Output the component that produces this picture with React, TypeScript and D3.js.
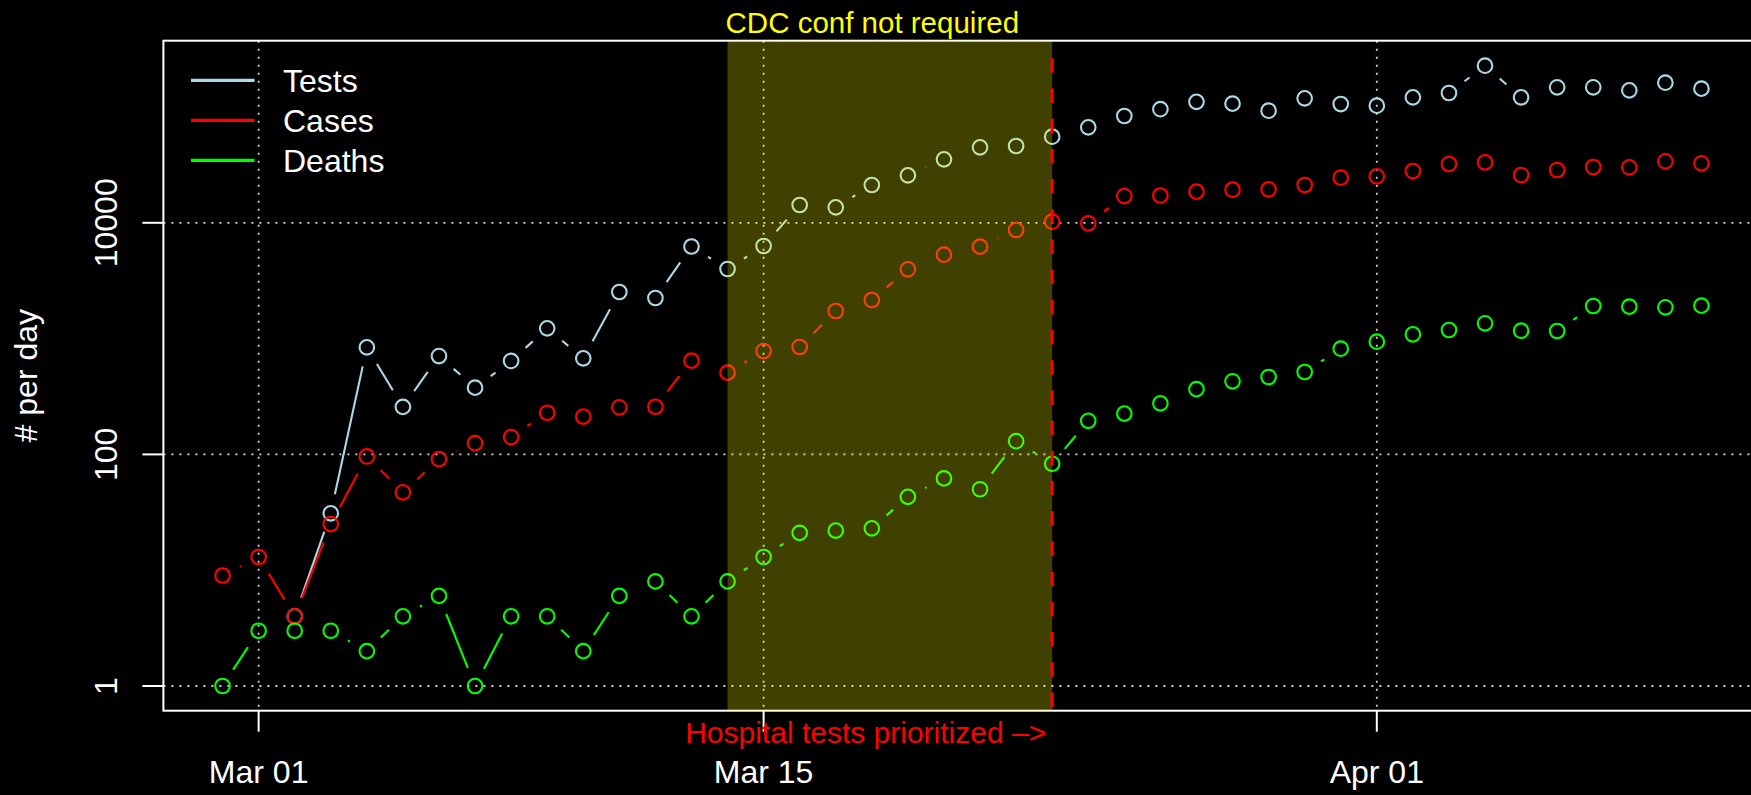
import React from "react";
import * as d3 from "d3";

// ---- data ----
const dates: Date[] = d3.utcDay.range(new Date(Date.UTC(2020, 1, 29)), new Date(Date.UTC(2020, 3, 11)));

const tests: (number | null)[] = [
  null, null, 4, 31, 841, 257, 707, 377, 641, 1227, 676, 2526, 2242, 6243, 3990, 6305,
  14250, 13610, 21200, 25720, 35350, 44870, 46050, 55400, 66780, 83610, 95700, 110900,
  106800, 92900, 118900, 106100, 102600, 121300, 132100, 227300, 121300, 148000, 148000,
  139400, 162100, 143900,
];
const cases: (number | null)[] = [
  9, 13, 4, 25, 96, 47, 91, 125, 141, 229, 212, 255, 258, 645, 508, 781, 846, 1731, 2154,
  3966, 5303, 6218, 8666, 10220, 9900, 17030, 17210, 18560, 19310, 19470, 21200, 24520,
  25210, 28020, 32190, 33300, 25870, 28580, 30330, 30150, 33970, 32640,
];
const deaths: (number | null)[] = [
  1, 3, 3, 3, 2, 4, 6, 1, 4, 4, 2, 6, 8, 4, 8, 13, 21, 22, 23, 43, 62, 50, 130, 83, 195,
  225, 276, 366, 428, 466, 515, 818, 940, 1089, 1187, 1356, 1170, 1163, 1912, 1886, 1864, 1924,
];

const seriesNames = ["Tests", "Cases", "Deaths"];
const seriesColors = ["#ADD8E6", "#FF0000", "#00FF00"];
const seriesValues = [tests, cases, deaths];

const xTickDates = ["2020-03-01", "2020-03-15", "2020-04-01"];
const yTickValues = [1, 100, 10000];

const shadeStart = "2020-03-14";
const shadeEnd = "2020-03-23";
const shadeLabel = "CDC conf not required";
const lineLabel = "Hospital tests prioritized \u2013>";
const yTitle = "# per day";

// ---- layout ----
const W = 1751;
const H = 795;
const left = 163.4;
const right = 1760.6;
const top = 40.7;
const bottom = 710.7;
const FONT = "'Liberation Sans', Arial, Helvetica, sans-serif";

const day = 86400000;
const mar1 = Date.UTC(2020, 2, 1);

const x = d3
  .scaleUtc()
  .domain([new Date(mar1 - 2.64 * day), new Date(mar1 + 41.64 * day)])
  .range([left, right]);
const y = d3
  .scaleLog()
  .domain([Math.pow(10, -0.2133), Math.pow(10, 5.5726)])
  .range([bottom, top]);

const fmt = d3.utcFormat("%b %d");
const parse = (s: string) => new Date(s + "T00:00:00Z");

const GAP = 19.5;
const R = 7.3;

function segments(vals: (number | null)[]) {
  const out: { x1: number; y1: number; x2: number; y2: number }[] = [];
  for (let i = 0; i < vals.length - 1; i++) {
    const a = vals[i];
    const b = vals[i + 1];
    if (a == null || b == null) continue;
    const ax = x(dates[i]);
    const ay = y(a);
    const bx = x(dates[i + 1]);
    const by = y(b);
    const dx = bx - ax;
    const dy = by - ay;
    const d = Math.sqrt(dx * dx + dy * dy);
    if (d <= 2 * GAP) continue;
    const ux = dx / d;
    const uy = dy / d;
    out.push({ x1: ax + ux * GAP, y1: ay + uy * GAP, x2: bx - ux * GAP, y2: by - uy * GAP });
  }
  return out;
}

export default function App() {
  const sx0 = x(parse(shadeStart));
  const sx1 = x(parse(shadeEnd));
  return (
    <svg
      width={W}
      height={H}
      style={{ position: "absolute", left: 0, top: 0, display: "block" }}
      fontFamily={FONT}
    >
      <rect x={0} y={0} width={W} height={H} fill="#000" />
      {/* grid */}
      {xTickDates.map((t) => (
        <line
          key={"gx" + t}
          x1={x(parse(t))}
          x2={x(parse(t))}
          y1={top}
          y2={bottom}
          stroke="#d3d3d3"
          strokeWidth={1.8}
          strokeDasharray="2 6"
        />
      ))}
      {yTickValues.map((v) => (
        <line
          key={"gy" + v}
          x1={left}
          x2={right}
          y1={y(v)}
          y2={y(v)}
          stroke="#d3d3d3"
          strokeWidth={1.8}
          strokeDasharray="2 6"
        />
      ))}
      {/* series */}
      {seriesValues.map((vals, si) => (
        <g key={seriesNames[si]} stroke={seriesColors[si]} fill="none" strokeWidth={2.1}>
          {segments(vals).map((s, k) => (
            <line key={k} x1={s.x1} y1={s.y1} x2={s.x2} y2={s.y2} />
          ))}
          {vals.map((v, i) =>
            v == null ? null : <circle key={"c" + i} cx={x(dates[i])} cy={y(v)} r={R} />
          )}
        </g>
      ))}
      {/* box */}
      <rect x={left} y={top} width={right - left} height={bottom - top} fill="none" stroke="#fff" strokeWidth={2} />
      {/* axes */}
      {xTickDates.map((t) => (
        <g key={"tx" + t}>
          <line x1={x(parse(t))} x2={x(parse(t))} y1={bottom} y2={bottom + 21} stroke="#fff" strokeWidth={2} />
          <text x={x(parse(t))} y={782.7} textAnchor="middle" fill="#fff" fontSize={32}>
            {fmt(parse(t))}
          </text>
        </g>
      ))}
      {yTickValues.map((v) => (
        <g key={"ty" + v}>
          <line x1={left - 21} x2={left} y1={y(v)} y2={y(v)} stroke="#fff" strokeWidth={2} />
          <text
            transform={`translate(116.5,${y(v)}) rotate(-90)`}
            textAnchor="middle"
            fill="#fff"
            fontSize={32}
          >
            {String(v)}
          </text>
        </g>
      ))}
      <text
        transform={`translate(37,${(top + bottom) / 2}) rotate(-90)`}
        textAnchor="middle"
        fill="#fff"
        fontSize={32}
      >
        {yTitle}
      </text>
      {/* legend */}
      {seriesNames.map((n, i) => (
        <g key={"lg" + n}>
          <line x1={191} x2={254.5} y1={80.3 + i * 40} y2={80.3 + i * 40} stroke={seriesColors[i]} strokeWidth={3.2} />
          <text x={283} y={80.3 + i * 40 + 11.4} fill="#fff" fontSize={32}>
            {n}
          </text>
        </g>
      ))}
      {/* shaded period */}
      <rect x={sx0} y={top} width={sx1 - sx0} height={bottom - top} fill="rgba(255,255,0,0.25)" />
      <line
        x1={sx1}
        x2={sx1}
        y1={58.3}
        y2={bottom}
        stroke="#FF0000"
        strokeWidth={3.2}
        strokeDasharray="14.5 15.7"
      />
      <text x={sx0 - 2} y={33.3} fill="#FFFF00" fontSize={29.5}>
        {shadeLabel}
      </text>
      <text x={sx1 - 6} y={742.7} fill="#FF0000" fontSize={30} textAnchor="end">
        {lineLabel}
      </text>
    </svg>
  );
}
